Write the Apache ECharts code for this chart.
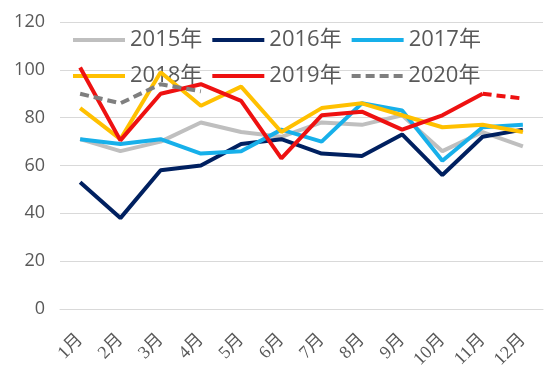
<!DOCTYPE html>
<html>
<head>
<meta charset="utf-8">
<script src="https://cdn.jsdelivr.net/npm/echarts@6/dist/echarts.min.js"></script>
<style>html,body{margin:0;padding:0;background:#fff}#c{width:550px;height:390px}</style>
</head>
<body>
<div id="c"></div>
<script>
var months = ['1月','2月','3月','4月','5月','6月','7月','8月','9月','10月','11月','12月'];
var yTicks = [0, 20, 40, 60, 80, 100, 120];
var y2015 = [71, 66, 70, 78, 74, 72, 78, 77, 81, 66, 74, 68];
var y2016 = [53, 38, 58, 60, 69, 71, 65, 64, 73, 56, 72, 75];
var y2017 = [71, 69, 71, 65, 66, 75, 70, 86, 83, 62, 76, 77];
var y2018 = [84, 71, 99, 85, 93, 74, 84, 86, 81, 76, 77, 74];
var y2019 = [101, 70.5, 90, 94, 87, 63, 81, 82.5, 75, 81, 90, null];
var y2019f = [null, null, null, null, null, null, null, null, null, null, 90, 88];
var y2020 = [90, 86, 94, 91, null, null, null, null, null, null, null, null];
var names = ['2015年','2016年','2017年','2018年','2019年','2020年'];
var colors = ['#bfbfbf', '#002060', '#17b0ea', '#ffc000', '#ee1111', '#7f7f7f'];

var font = "'Open Sans', 'Noto Sans CJK SC', sans-serif";
var solidIcon = 'path://M0,0H52V4H0Z';
var dashIcon = 'path://M0,0H9V4H0Z M14,0H23V4H14Z M28,0H37V4H28Z M42,0H51V4H42Z';

function ser(name, data, color, type) {
  return {
    name: name, type: 'line', data: data, showSymbol: false, symbol: 'none',
    z: 5, connectNulls: false,
    lineStyle: { color: color, width: 4, type: type || 'solid', cap: 'butt' },
    itemStyle: { color: color }
  };
}
var legendData = names.map(function (n, i) {
  return { name: n, icon: i === 5 ? dashIcon : solidIcon, itemStyle: { color: colors[i] } };
});
var chart = echarts.init(document.getElementById('c'), null, { renderer: 'canvas' });
chart.setOption({
  animation: false,
  backgroundColor: '#fff',
  textStyle: { fontFamily: font },
  grid: { left: 60, right: 7, top: 22, bottom: 81 },
  legend: {
    data: legendData, left: 73, top: 27, width: 420, padding: 0, z: 1,
    itemWidth: 52, itemHeight: 4, itemGap: 10,
    textStyle: { color: '#595959', fontSize: 22, lineHeight: 26, fontFamily: font }
  },
  xAxis: {
    type: 'category', data: months, boundaryGap: true,
    axisLine: { show: true, lineStyle: { color: '#d9d9d9', width: 1 } },
    axisTick: { show: false },
    axisLabel: { rotate: 45, margin: 28, color: '#595959', fontSize: 18,
      fontFamily: "'Liberation Serif', 'Noto Sans CJK SC', serif", interval: 0 }
  },
  yAxis: {
    type: 'value', min: yTicks[0], max: yTicks[yTicks.length - 1], interval: 20,
    axisLine: { show: false }, axisTick: { show: false },
    splitLine: { lineStyle: { color: '#d9d9d9', width: 1 } },
    axisLabel: { color: '#595959', fontSize: 18, margin: 15, fontFamily: font }
  },
  series: [
    ser(names[0], y2015, colors[0]),
    ser(names[1], y2016, colors[1]),
    ser(names[2], y2017, colors[2]),
    ser(names[3], y2018, colors[3]),
    ser(names[4], y2019, colors[4]),
    ser(names[5], y2020, colors[5], [9, 5]),
    ser('2019年预测', y2019f, colors[4], [9, 5])
  ]
});
</script>
</body>
</html>
